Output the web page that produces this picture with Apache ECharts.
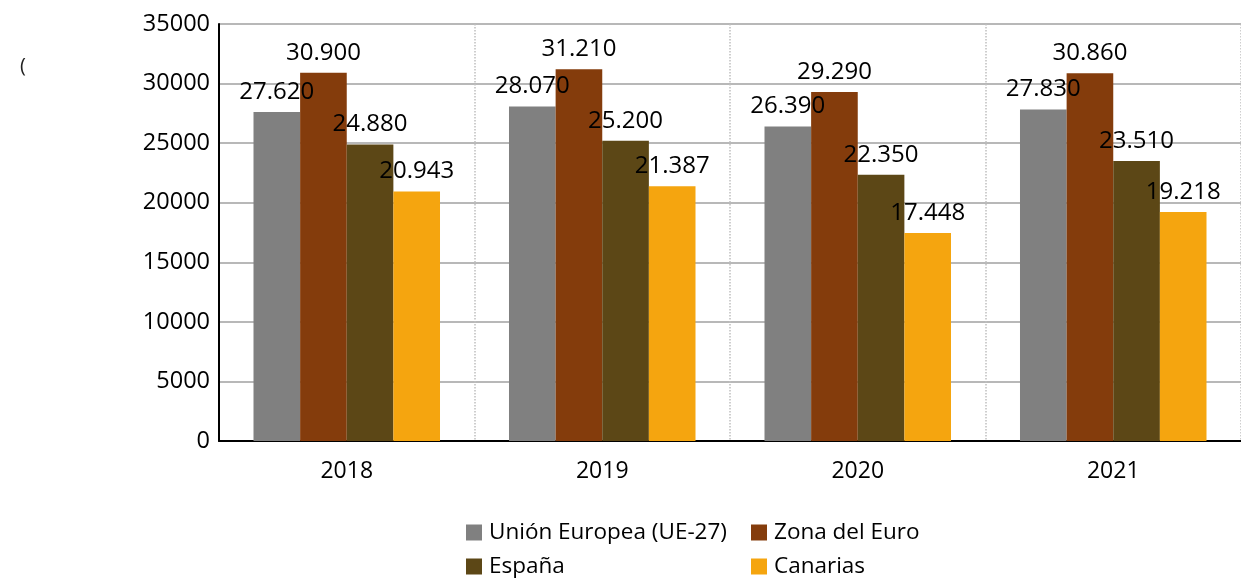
<!DOCTYPE html>
<html>
<head>
<meta charset="utf-8">
<script src="https://cdn.jsdelivr.net/npm/echarts@6/dist/echarts.min.js"></script>
<style>
  html, body { margin: 0; padding: 0; background: #fff; }
  #chart { width: 1241px; height: 581px; }
</style>
</head>
<body>
<div id="chart"></div>
<script>
const years = ['2018', '2019', '2020', '2021'];
const seriesNames = ['Unión Europea (UE-27)', 'Zona del Euro', 'España', 'Canarias'];
const ueValues = [27620, 28070, 26390, 27830];
const euroValues = [30900, 31210, 29290, 30860];
const espanaValues = [24880, 25200, 22350, 23510];
const canariasValues = [20943, 21387, 17448, 19218];
const colors = ['#808080', '#843c0c', '#5c4716', '#f5a50f'];

const FONT = 'Open Sans';

function formatThousands(value) {
  return String(value).replace(/\B(?=(\d{3})+(?!\d))/g, '.');
}

function barSeries(name, data, color) {
  return {
    name,
    type: 'bar',
    data,
    barGap: '0%',
    barCategoryGap: '27%',
    itemStyle: { color },
    label: {
      show: true,
      position: 'top',
      distance: 8,
      color: '#000',
      fontFamily: FONT,
      fontSize: 24,
      formatter: (p) => formatThousands(p.value),
    },
  };
}

// one legend per item so the two columns line up like the original
function legendItem(name, left, top) {
  return {
    data: [name],
    left,
    top,
    padding: 0,
    itemWidth: 16,
    itemHeight: 16,
    itemGap: 0,
    icon: 'rect',
    textStyle: { fontFamily: FONT, fontSize: 22.5, color: '#000', padding: [0, 0, 0, 2] },
  };
}

const chart = echarts.init(document.getElementById('chart'));
chart.setOption({
  animation: false,
  backgroundColor: '#fff',
  textStyle: { fontFamily: FONT },
  grid: { left: 219, top: 24, width: 1028, height: 417 },
  graphic: [
    { type: 'text', left: 20, top: 56, style: { text: '(', fontFamily: FONT, fontSize: 20, fill: '#222' } },
  ],
  legend: [
    legendItem(seriesNames[0], 466, 521),
    legendItem(seriesNames[1], 751, 521),
    legendItem(seriesNames[2], 466, 555),
    legendItem(seriesNames[3], 751, 555),
  ],
  xAxis: {
    type: 'category',
    data: years,
    axisTick: { show: false },
    axisLine: { lineStyle: { color: '#000', width: 2 } },
    axisLabel: { fontFamily: FONT, fontSize: 23, color: '#000', margin: 19 },
    splitLine: { show: true, lineStyle: { color: '#bfbfbf', type: 'dotted', width: 1.5 } },
  },
  yAxis: {
    type: 'value',
    min: 0,
    max: 35000,
    interval: 5000,
    axisLine: { show: true, lineStyle: { color: '#000', width: 2 } },
    axisTick: { show: false },
    axisLabel: { fontFamily: FONT, fontSize: 23.5, color: '#000', margin: 9, formatter: (v) => String(v) },
    splitLine: { lineStyle: { color: '#b8b8b8', width: 2 } },
  },
  series: [
    barSeries(seriesNames[0], ueValues, colors[0]),
    barSeries(seriesNames[1], euroValues, colors[1]),
    barSeries(seriesNames[2], espanaValues, colors[2]),
    barSeries(seriesNames[3], canariasValues, colors[3]),
  ],
});
</script>
</body>
</html>
